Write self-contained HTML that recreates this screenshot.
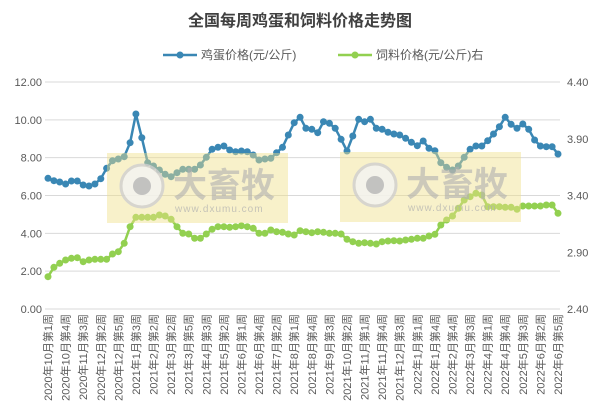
<!DOCTYPE html>
<html><head><meta charset="utf-8"><style>
body{margin:0;background:#fff;}
svg{display:block;font-family:"Liberation Sans","Noto Sans CJK SC",sans-serif;}
</style></head><body>
<svg id="s" width="601" height="411" viewBox="0 0 601 411" xmlns="http://www.w3.org/2000/svg">
<rect width="601" height="411" fill="#fff"/>
<text x="300" y="26" text-anchor="middle" font-size="16" font-weight="bold" fill="#404040">全国每周鸡蛋和饲料价格走势图</text>
<line x1="163" y1="55" x2="197" y2="55" stroke="#3a87b4" stroke-width="2.5"/><circle cx="180" cy="55" r="3.5" fill="#3a87b4"/>
<text x="201" y="59" font-size="12" fill="#595959">鸡蛋价格(元/公斤)</text>
<line x1="338" y1="55" x2="372" y2="55" stroke="#92d050" stroke-width="2.5"/><circle cx="355" cy="55" r="3.5" fill="#92d050"/>
<text x="376" y="59" font-size="12" fill="#595959">饲料价格(元/公斤)右</text>
<g id="g"></g>
</svg>
<script>
var g=document.getElementById('g'),h='';
var L=['0.00','2.00','4.00','6.00','8.00','10.00','12.00'],R=['2.40','2.90','3.40','3.90','4.40'];
for(var i=0;i<7;i++){var y=309-i*37.83;h+='<line x1="45" x2="560" y1="'+y+'" y2="'+y+'" stroke="#d9d9d9" stroke-width="1"/>';h+='<text x="42" y="'+(y+4)+'" text-anchor="end" font-size="11" fill="#595959">'+L[i]+'</text>';}
for(var i=0;i<5;i++){var y=309-i*56.75;h+='<text x="567" y="'+(y+4)+'" font-size="11" fill="#595959">'+R[i]+'</text>';}
var eg=[295,302,306,312,303,303,315,318,312,296,265,242,237,230,188,102,173,248,258,270,283,290,278,268,268,268,255,232,208,202,198,210,215,213,215,225,240,237,235,218,202,165,128,112,145,148,158,125,130,145,178,213,168,118,125,118,145,148,157,162,165,175,187,197,183,205,212,248,262,270,258,232,208,198,198,182,162,140,112,133,145,132,148,180,198,200,200,222];
var fd=[590,562,550,540,535,533,545,540,538,538,538,522,515,490,440,412,412,412,412,405,408,418,440,460,462,475,475,462,448,440,440,442,440,437,440,445,460,460,450,455,457,462,465,452,455,458,455,457,460,460,462,478,485,490,488,490,492,485,483,482,483,480,478,475,475,468,463,435,420,408,385,360,350,340,345,380,380,380,382,382,388,378,378,378,378,375,375,400];
function X(i){return 48+i*(510/87);}
function series(a,c){var p='';for(var i=0;i<a.length;i++)p+=(i?'L':'M')+X(i).toFixed(1)+' '+(80+a[i]/3).toFixed(1);var s='<path d="'+p+'" fill="none" stroke="'+c+'" stroke-width="2.5" stroke-linejoin="round"/>';for(var i=0;i<a.length;i++)s+='<circle cx="'+X(i).toFixed(1)+'" cy="'+(80+a[i]/3).toFixed(1)+'" r="3.5" fill="'+c+'"/>';return s;}
h+=series(fd,'#92d050');h+=series(eg,'#3a87b4');
function wm(x,y){var s='<rect x="'+x+'" y="'+y+'" width="181" height="70" fill="#efe08a" opacity="0.45"/>';
s+='<circle cx="'+(x+35)+'" cy="'+(y+33)+'" r="21" fill="#f4f4f4" stroke="#cfcfcf" stroke-width="3" opacity="0.8"/><circle cx="'+(x+35)+'" cy="'+(y+33)+'" r="9" fill="#b8b8b8" opacity="0.85"/>';
s+='<text x="'+(x+66)+'" y="'+(y+44)+'" font-size="34" font-weight="bold" fill="#b0b0b0" opacity="0.6">大畜牧</text>';
s+='<text x="'+(x+68)+'" y="'+(y+59)+'" font-size="10" fill="#b0b0b0" opacity="0.7" letter-spacing="1">www.dxumu.com</text>';return s;}
h+=wm(107,153)+wm(340,152);
var lb=['2020年10月第1周','2020年10月第4周','2020年11月第3周','2020年12月第2周','2020年12月第5周','2021年1月第3周','2021年2月第2周','2021年3月第2周','2021年3月第5周','2021年4月第3周','2021年5月第2周','2021年6月第1周','2021年6月第4周','2021年7月第2周','2021年8月第1周','2021年8月第4周','2021年9月第3周','2021年10月第2周','2021年11月第1周','2021年11月第4周','2021年12月第3周','2022年1月第1周','2022年1月第4周','2022年2月第4周','2022年3月第3周','2022年4月第1周','2022年4月第4周','2022年5月第3周','2022年6月第2周','2022年6月第5周'];
for(var i=0;i<lb.length;i++){var x=X(i*3)+4;h+='<text transform="translate('+x.toFixed(1)+',314) rotate(-90)" text-anchor="end" font-size="11" fill="#595959">'+lb[i]+'</text>';}
g.innerHTML=h;
</script>
</body></html>
